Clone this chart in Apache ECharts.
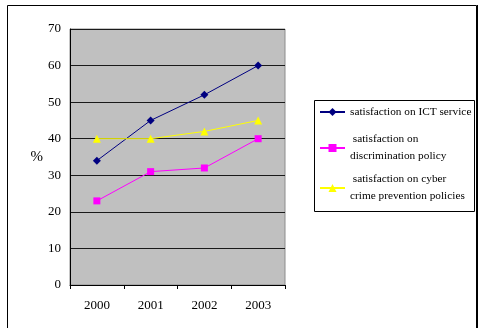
<!DOCTYPE html>
<html>
<head>
<meta charset="utf-8">
<style>
  html, body { margin: 0; padding: 0; background: #ffffff; }
  #chart { width: 478px; height: 328px; }
</style>
<script src="https://cdn.jsdelivr.net/npm/echarts@6/dist/echarts.min.js"></script>
</head>
<body>
<div id="chart"></div>
<script>
// Survey years and satisfaction levels (%)
const years = ['2000', '2001', '2002', '2003'];
const ictService = [34, 45, 52, 60];
const discrimination = [23, 31, 32, 40];
const cyberCrime = [40, 40, 42, 45];

const seriesNames = [
  'satisfaction on ICT service',
  'satisfaction on discrimination policy',
  'satisfaction on cyber crime prevention policies'
];
// Legend text, with the wrapped lines used in the key
const legendLabels = {
  'satisfaction on ICT service': 'satisfaction on ICT service',
  'satisfaction on discrimination policy': ' satisfaction on\ndiscrimination policy',
  'satisfaction on cyber crime prevention policies': ' satisfaction on cyber\ncrime prevention policies'
};

const FONT = 'Liberation Serif, Times New Roman, serif';

const chart = echarts.init(document.getElementById('chart'), null, { renderer: 'canvas' });

function legendFor(name, centerY, twoLines) {
  return {
    data: [name],
    orient: 'vertical',
    left: 319,
    top: twoLines ? centerY - 25.5 : centerY - 8.5,
    padding: 0,
    itemWidth: 25,
    itemHeight: 10,
    selectedMode: false,
    formatter: function (n) { return legendLabels[n]; },
    textStyle: {
      fontFamily: FONT,
      fontSize: 11.3,
      color: '#000',
      lineHeight: 17,
      padding: twoLines ? [17, 0, 0, 0] : 0
    }
  };
}

chart.setOption({
  animation: false,
  backgroundColor: '#ffffff',
  grid: {
    left: 70, right: 193, top: 29, bottom: 43,
    show: true,
    backgroundColor: '#c0c0c0',
    borderColor: '#8c8c8c',
    borderWidth: 1
  },
  legend: [
    legendFor(seriesNames[0], 112, false),
    legendFor(seriesNames[1], 148, true),
    legendFor(seriesNames[2], 188, true)
  ],
  graphic: [
    {
      type: 'rect',
      shape: { x: 7.5, y: 5.5, width: 469, height: 340 },
      style: { fill: null, stroke: '#000', lineWidth: 1 },
      z: -1
    },
    {
      type: 'line',
      shape: { x1: 477.5, y1: 5, x2: 477.5, y2: 328 },
      style: { stroke: '#000', lineWidth: 1 }
    },
    {
      type: 'rect',
      shape: { x: 314.5, y: 100.5, width: 160, height: 111 },
      style: { fill: '#ffffff', stroke: '#000', lineWidth: 1 },
      z: -1
    }
  ],
  xAxis: {
    type: 'category',
    data: years,
    boundaryGap: true,
    axisLine: { show: true, lineStyle: { color: '#000', width: 1 } },
    axisTick: { show: true, length: 4, inside: false, lineStyle: { color: '#000' } },
    axisLabel: { fontFamily: FONT, fontSize: 13, color: '#000', margin: 14 },
    splitLine: { show: false }
  },
  yAxis: {
    type: 'value',
    min: 0,
    max: 70,
    interval: 10,
    name: '%',
    nameLocation: 'middle',
    nameRotate: 0,
    nameGap: 27,
    nameTextStyle: { fontFamily: FONT, fontSize: 15, color: '#000' },
    axisLine: { show: true, lineStyle: { color: '#000', width: 1 } },
    axisTick: { show: false },
    axisLabel: { fontFamily: FONT, fontSize: 13, color: '#000', margin: 9 },
    splitLine: { show: true, lineStyle: { color: '#1a1a1a', width: 1 } }
  },
  series: [
    {
      name: seriesNames[0],
      type: 'line',
      data: ictService,
      symbol: 'diamond',
      symbolSize: 8,
      lineStyle: { color: '#000080', width: 1 },
      itemStyle: { color: '#000080' }
    },
    {
      name: seriesNames[1],
      type: 'line',
      data: discrimination,
      symbol: 'rect',
      symbolSize: 7,
      lineStyle: { color: '#ff00ff', width: 1 },
      itemStyle: { color: '#ff00ff' }
    },
    {
      name: seriesNames[2],
      type: 'line',
      data: cyberCrime,
      symbol: 'triangle',
      symbolSize: 8,
      lineStyle: { color: '#ffff00', width: 1 },
      itemStyle: { color: '#ffff00' }
    }
  ]
});
</script>
</body>
</html>
